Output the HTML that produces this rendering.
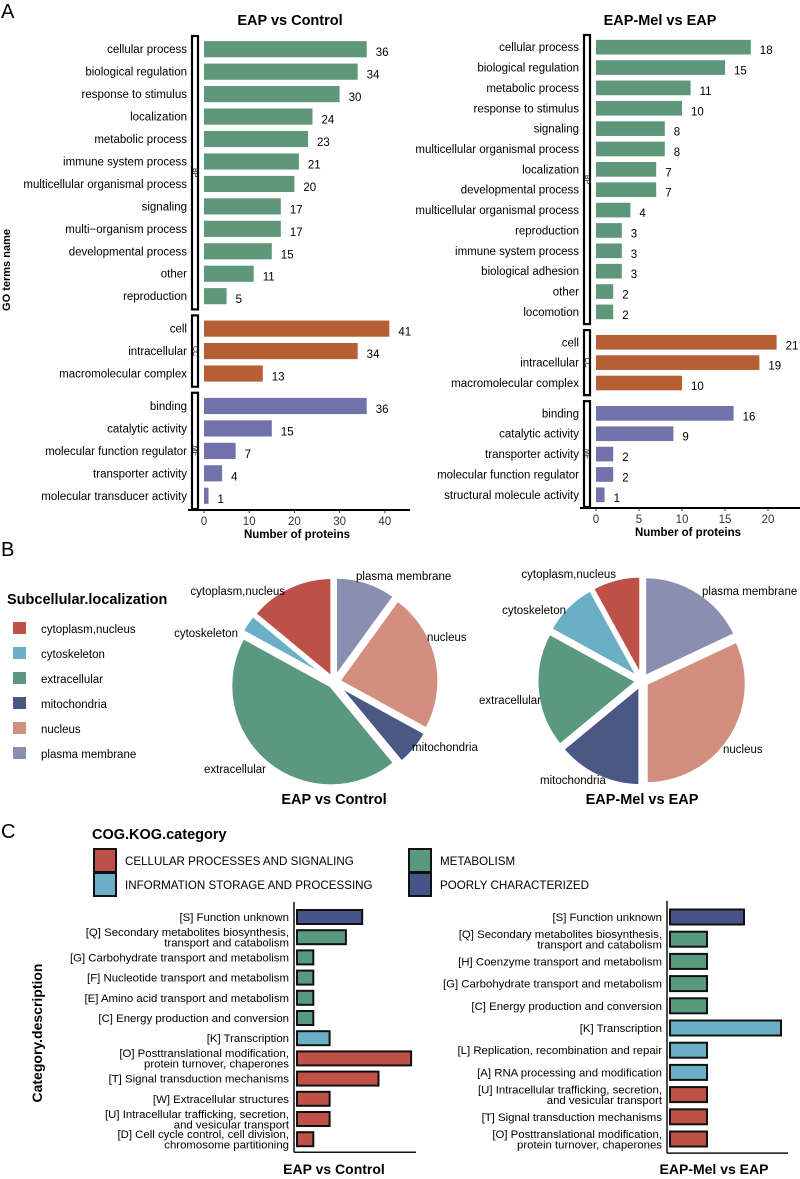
<!DOCTYPE html>
<html><head><meta charset="utf-8"><style>
body{margin:0;background:#fff}
svg{display:block;font-family:"Liberation Sans",sans-serif}
</style></head><body>
<svg id="s" width="800" height="1179" viewBox="0 0 800 1179" xmlns="http://www.w3.org/2000/svg">
<text x="1" y="18" font-size="20">A</text>
<text x="1" y="556" font-size="20">B</text>
<text x="1" y="838" font-size="20">C</text>
<text x="290" y="25" font-size="14.5" font-weight="bold" text-anchor="middle">EAP vs Control</text>
<text x="660" y="25" font-size="14.5" font-weight="bold" text-anchor="middle">EAP-Mel vs EAP</text>
<text transform="translate(10,270) rotate(-90)" font-size="11" font-weight="bold" text-anchor="middle">GO terms name</text>
<g id="gA"></g><g id="gB"></g><g id="gC"></g>
</svg>
<script>
const NS='http://www.w3.org/2000/svg';
const S=document.getElementById('s');
function el(t,a,p,txt){const e=document.createElementNS(NS,t);for(const k in a)e.setAttribute(k,a[k]);if(txt!==undefined)e.textContent=txt;(p||S).appendChild(e);return e;}
// ---- Panel A data
const leftTerms=["cellular process","biological regulation","response to stimulus","localization","metabolic process","immune system process","multicellular organismal process","signaling","multi−organism process","developmental process","other","reproduction","cell","intracellular","macromolecular complex","binding","catalytic activity","molecular function regulator","transporter activity","molecular transducer activity"];
const leftVals=[36,34,30,24,23,21,20,17,17,15,11,5,41,34,13,36,15,7,4,1];
const leftCats=["BP","BP","BP","BP","BP","BP","BP","BP","BP","BP","BP","BP","CC","CC","CC","MF","MF","MF","MF","MF"];
const rightTerms=["cellular process","biological regulation","metabolic process","response to stimulus","signaling","multicellular organismal process","localization","developmental process","multicellular organismal process","reproduction","immune system process","biological adhesion","other","locomotion","cell","intracellular","macromolecular complex","binding","catalytic activity","transporter activity","molecular function regulator","structural molecule activity"];
const rightVals=[18,15,11,10,8,8,7,7,4,3,3,3,2,2,21,19,10,16,9,2,2,1];
const rightCats=["BP","BP","BP","BP","BP","BP","BP","BP","BP","BP","BP","BP","BP","BP","CC","CC","CC","MF","MF","MF","MF","MF"];
const leftTicks=[0,10,20,30,40];
const rightTicks=[0,5,10,15,20];
const catColor={BP:"#5f977a",CC:"#b65e34",MF:"#7171ab"};
function goChart(name,terms,vals,cats,ticks,x0,unit,yTop,yBot,axEnd,bx){
  const g=document.getElementById('gA');
  const n=terms.length;
  const groups=[];cats.forEach((c,i)=>{if(!groups.length||groups[groups.length-1].c!==c)groups.push({c,s:i,e:i});else groups[groups.length-1].e=i;});
  const gap=10;const step=(yBot-yTop-gap*(groups.length-1))/n;
  const yOf=i=>{let gi=groups.findIndex(q=>i>=q.s&&i<=q.e);return yTop+i*step+gi*gap;};
  const xs=v=>x0+v*unit;
  terms.forEach((t,i)=>{const y=yOf(i);
    const r=el('rect',{x:x0,y:y+step*0.14,width:xs(vals[i])-x0,height:step*0.72,fill:catColor[cats[i]]},g);
    
    
    const lt=el('text',{x:bx-5,y:y+step/2+4,'font-size':11.5,'text-anchor':'end'},g,t);
    
    
    const vt=el('text',{x:xs(vals[i])+9,y:y+step/2+7,'font-size':11.5},g,String(vals[i]));
    
    
  });
  groups.forEach(q=>{const y1=yOf(q.s)-2,y2=yOf(q.e)+step+2;
    const b=el('rect',{x:bx,y:y1,width:6,height:y2-y1,fill:'#fff',stroke:'#000','stroke-width':2.2},g);
    
    
    const tt=el('text',{transform:`translate(${bx+1},${(y1+y2)/2}) rotate(90)`,'font-size':7,'text-anchor':'middle'},g,q.c);
    
    
  });
  const ay=yBot+3;
  const ax=el('line',{x1:bx-4,x2:axEnd,y1:ay,y2:ay,stroke:'#000','stroke-width':2},g);
  
  
  ticks.forEach(v=>{el('line',{x1:xs(v),x2:xs(v),y1:ay,y2:ay+3,stroke:'#333'},g);
    const tl=el('text',{x:xs(v),y:ay+15,'font-size':11.5,'text-anchor':'middle',fill:'#333'},g,String(v));
    
    });
  const xt=el('text',{x:(x0+axEnd)/2-10,y:ay+28,'font-size':11.5,'font-weight':'bold','text-anchor':'middle'},g,'Number of proteins');
  
  
}
goChart('left',leftTerms,leftVals,leftCats,leftTicks,204,4.52,38,507,410,192);
goChart('right',rightTerms,rightVals,rightCats,rightTicks,596,8.6,37,505,800,584);
// ---- Panel B
const locNames=["cytoplasm,nucleus","cytoskeleton","extracellular","mitochondria","nucleus","plasma membrane"];
const locColors=["#bf5048","#6aafc5","#5a987f","#4b5886","#d38f7d","#8a8fb2"];
const pie1Vals=[14,3,44,6,23,10];
const pie2Vals=[8,9,19,14,32,18];
const gB=document.getElementById('gB');
const lt0=el('text',{x:7,y:604,'font-size':14.5,'font-weight':'bold'},gB,'Subcellular.localization');


locNames.forEach((nm,i)=>{const y=622+i*25;
  const r=el('rect',{x:13,y:y,width:13,height:12,fill:locColors[i]},gB);
  
  
  const t=el('text',{x:41,y:y+11,'font-size':11.5},gB,nm);
  
  });
const pieOrder=[5,4,3,2,1,0];
// label anchor positions (layout only), in locNames order: [x,y,anchor]
const pie1Labels=[[285,595,'end'],[238,637,'end'],[204,773,'start'],[412,751,'start'],[427,641,'start'],[356,580,'start']];
const pie2Labels=[[616,578,'end'],[566,614,'end'],[541,704,'end'],[540,784,'start'],[723,753,'start'],[702,595,'start']];
function pie(vals,cx,cy,r,title,labels){
  const tot=vals.reduce((a,b)=>a+b,0);let a0=-Math.PI/2;
  pieOrder.forEach(i=>{const a1=a0+vals[i]/tot*2*Math.PI;const m=(a0+a1)/2;
    const ox=cx+Math.cos(m)*5,oy=cy+Math.sin(m)*5;
    const p=`M${ox},${oy}L${ox+r*Math.cos(a0)},${oy+r*Math.sin(a0)}A${r},${r} 0 ${a1-a0>Math.PI?1:0} 1 ${ox+r*Math.cos(a1)},${oy+r*Math.sin(a1)}Z`;
    const s=el('path',{d:p,fill:locColors[i],stroke:'#fff','stroke-width':3},gB);
    
    
    a0=a1;});
  locNames.forEach((nm,i)=>{const L=labels[i];
    const t=el('text',{x:L[0],y:L[1],'font-size':11.5,'text-anchor':L[2]},gB,nm);
    
    });
  const tt=el('text',{x:cx,y:804,'font-size':14.5,'font-weight':'bold','text-anchor':'middle'},gB,title);
  
  
}
pie(pie1Vals,334,682,100,'EAP vs Control',pie1Labels);
pie(pie2Vals,642,681,100,'EAP-Mel vs EAP',pie2Labels);
// ---- Panel C
const cogNames=["CELLULAR PROCESSES AND SIGNALING","INFORMATION STORAGE AND PROCESSING","METABOLISM","POORLY CHARACTERIZED"];
const cogColors={CP:"#bf5048",IS:"#6aafc5",ME:"#579a7e",PC:"#45558a"};
const cLeftLabels=[["[S] Function unknown"],["[Q] Secondary metabolites biosynthesis,","transport and catabolism"],["[G] Carbohydrate transport and metabolism"],["[F] Nucleotide transport and metabolism"],["[E] Amino acid transport and metabolism"],["[C] Energy production and conversion"],["[K] Transcription"],["[O] Posttranslational modification,","protein turnover, chaperones"],["[T] Signal transduction mechanisms"],["[W] Extracellular structures"],["[U] Intracellular trafficking, secretion,","and vesicular transport"],["[D] Cell cycle control, cell division,","chromosome partitioning"]];
const cLeftVals=[4,3,1,1,1,1,2,7,5,2,2,1];
const cLeftCats=["PC","ME","ME","ME","ME","ME","IS","CP","CP","CP","CP","CP"];
const cRightLabels=[["[S] Function unknown"],["[Q] Secondary metabolites biosynthesis,","transport and catabolism"],["[H] Coenzyme transport and metabolism"],["[G] Carbohydrate transport and metabolism"],["[C] Energy production and conversion"],["[K] Transcription"],["[L] Replication, recombination and repair"],["[A] RNA processing and modification"],["[U] Intracellular trafficking, secretion,","and vesicular transport"],["[T] Signal transduction mechanisms"],["[O] Posttranslational modification,","protein turnover, chaperones"]];
const cRightVals=[2,1,1,1,1,3,1,1,1,1,1];
const cRightCats=["PC","ME","ME","ME","ME","IS","IS","IS","CP","CP","CP"];
const gC=document.getElementById('gC');
const ct=el('text',{x:92,y:839,'font-size':14.5,'font-weight':'bold'},gC,'COG.KOG.category');


[["CP",94,849,0,125],["IS",94,873,1,125],["ME",409,849,2,440],["PC",409,873,3,440]].forEach(([k,x,y,i,tx])=>{
  const r=el('rect',{x:x,y:y,width:22,height:23,fill:cogColors[k],stroke:'#111','stroke-width':2},gC);
  
  
  const t=el('text',{x:tx,y:y+16,'font-size':11.6},gC,cogNames[i]);
  
  });
function cog(name,labels,vals,cats,ax,unit,yTop,step,axEnd,bh,title,tx){
  labels.forEach((ls,i)=>{const yc=yTop+i*step;
    const r=el('rect',{x:ax+3,y:yc-bh/2,width:vals[i]*unit,height:bh,fill:cogColors[cats[i]],stroke:'#111','stroke-width':2},gC);
    
    
    ls.forEach((l,j)=>{const y=yc+4+(j-(ls.length-1)/2)*10.5;
      const t=el('text',{x:ax-5,y:y,'font-size':11.4,'text-anchor':'end'},gC,l);
      
      });
  });
  const yb=yTop+(labels.length-1)*step+step/2+3;
  el('line',{x1:ax,x2:ax,y1:yTop-step/2-5,y2:yb,stroke:'#111','stroke-width':1.5},gC);
  el('line',{x1:ax,x2:axEnd,y1:yb,y2:yb,stroke:'#111','stroke-width':1.5},gC);
  const tt=el('text',{x:tx,y:1174,'font-size':14,'font-weight':'bold','text-anchor':'middle'},gC,title);
  
  
}
cog('left',cLeftLabels,cLeftVals,cLeftCats,294,16.3,917,20.2,416,14,'EAP vs Control',334);
cog('right',cRightLabels,cRightVals,cRightCats,667,37,917,22.2,788,15,'EAP-Mel vs EAP',714);
const cy=el('text',{transform:'translate(42,1033) rotate(-90)','font-size':14,'font-weight':'bold','text-anchor':'middle'},gC,'Category.description');


</script>
</body></html>
